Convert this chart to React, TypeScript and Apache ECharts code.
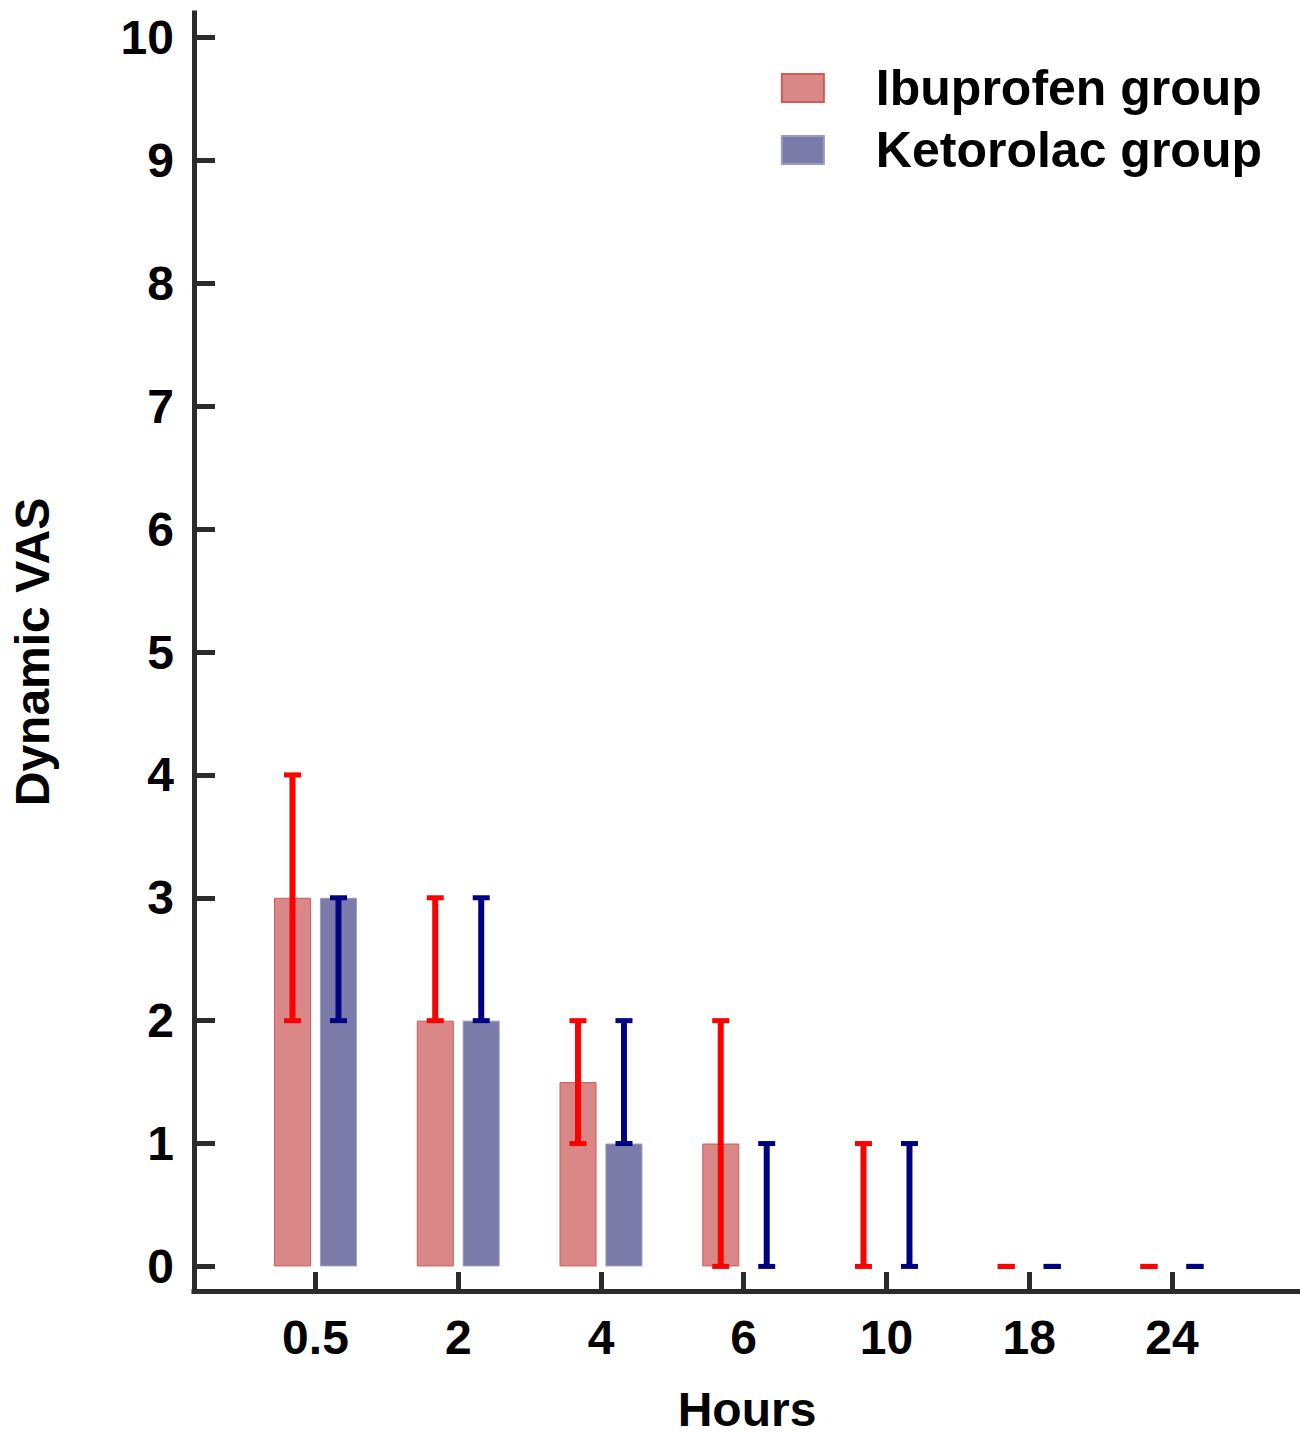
import React, { useEffect, useRef } from "react";
import * as echarts from "echarts";

const hours = ["0.5", "2", "4", "6", "10", "18", "24"];
const ibuMedian = [3, 2, 1.5, 1, 0, 0, 0];
const ketoMedian = [3, 2, 1, 0, 0, 0, 0];
const ibuLow = [2, 2, 1, 0, 0, 0, 0];
const ibuHigh = [4, 3, 2, 2, 1, 0, 0];
const ketoLow = [2, 2, 1, 0, 0, 0, 0];
const ketoHigh = [3, 3, 2, 1, 1, 0, 0];
const yTicks = [0, 1, 2, 3, 4, 5, 6, 7, 8, 9, 10];
const xTicks = [0, 1, 2, 3, 4, 5, 6];

const FONT = "'Liberation Sans', Arial, sans-serif";
const AXIS_COLOR = "#2b2b2b";

function errorSeries(name: string, low: number[], high: number[], color: string, offset: number) {
  return {
    type: "custom",
    name,
    z: 5,
    data: low.map((l, i) => [i, l, high[i]]),
    encode: { x: 0, y: [1, 2] },
    renderItem: (params: any, api: any) => {
      const x = api.value(0);
      const lo = api.value(1);
      const hi = api.value(2);
      const pLo = api.coord([x, lo]);
      const pHi = api.coord([x, hi]);
      const cx = pLo[0] + offset;
      const capW = 17;
      const capH = 5;
      const stemW = 6;
      const children: any[] = [];
      if (pLo[1] - pHi[1] > 0.5) {
        children.push({
          type: "rect",
          shape: { x: cx - stemW / 2, y: pHi[1], width: stemW, height: pLo[1] - pHi[1] },
          style: { fill: color },
        });
      }
      children.push({
        type: "rect",
        shape: { x: cx - capW / 2, y: pHi[1] - capH / 2, width: capW, height: capH },
        style: { fill: color },
      });
      children.push({
        type: "rect",
        shape: { x: cx - capW / 2, y: pLo[1] - capH / 2, width: capW, height: capH },
        style: { fill: color },
      });
      return { type: "group", children };
    },
  };
}

function barData(values: number[]) {
  return values.map((v, i) => ({
    value: [i, v],
    itemStyle: { borderWidth: v > 0 ? 1 : 0 },
  }));
}

export default function App() {
  const ref = useRef<HTMLDivElement>(null);
  useEffect(() => {
    if (!ref.current) return;
    const chart = echarts.init(ref.current, undefined, { renderer: "svg" });
    const option: any = {
      animation: false,
      backgroundColor: "#ffffff",
      textStyle: { fontFamily: FONT },
      grid: { left: 194, right: 0, top: 13, bottom: 142, containLabel: false, outerBoundsMode: "none" },
      legend: {
        data: ["Ibuprofen group", "Ketorolac group"],
        orient: "vertical",
        right: 33,
        top: 58,
        icon: "rect",
        itemWidth: 42,
        itemHeight: 28,
        itemGap: 12,
        selectedMode: false,
        textStyle: {
          fontFamily: FONT,
          fontSize: 50,
          fontWeight: "bold",
          color: "#000",
          lineHeight: 48,
          padding: [0, 0, 0, 47],
        },
      },
      xAxis: {
        type: "value",
        min: -0.851,
        max: 6.897,
        name: "Hours",
        nameLocation: "middle",
        nameGap: 100,
        nameTextStyle: { fontFamily: FONT, fontSize: 48, fontWeight: "bold", color: "#000", lineHeight: 36 },
        axisLine: { show: true, onZero: false, lineStyle: { color: AXIS_COLOR, width: 5, cap: "square" } },
        axisTick: { show: true, inside: true, length: 19, customValues: xTicks, lineStyle: { color: AXIS_COLOR, width: 5 } },
        axisLabel: {
          customValues: xTicks,
          formatter: (v: number) => hours[Math.round(v)] ?? "",
          fontFamily: FONT,
          fontSize: 48,
          fontWeight: "bold",
          color: "#000",
          margin: 22,
        },
        splitLine: { show: false },
      },
      yAxis: {
        type: "value",
        min: -0.2,
        max: 10.2,
        name: "Dynamic VAS",
        nameLocation: "middle",
        nameGap: 138,
        nameRotate: 90,
        nameTextStyle: { fontFamily: FONT, fontSize: 48, fontWeight: "bold", color: "#000" },
        axisLine: { show: true, onZero: false, lineStyle: { color: AXIS_COLOR, width: 5, cap: "square" } },
        axisTick: { show: true, inside: true, length: 21, customValues: yTicks, lineStyle: { color: AXIS_COLOR, width: 5 } },
        axisLabel: {
          customValues: yTicks,
          fontFamily: FONT,
          fontSize: 48,
          fontWeight: "bold",
          color: "#000",
          margin: 20,
        },
        splitLine: { show: false },
      },
      series: [
        {
          type: "bar",
          name: "Ibuprofen group",
          data: barData(ibuMedian),
          barWidth: 37,
          barGap: "24%",
          itemStyle: { color: "#d98787", borderColor: "#d05a5a", borderWidth: 1 },
        },
        {
          type: "bar",
          name: "Ketorolac group",
          data: barData(ketoMedian),
          barWidth: 37,
          barGap: "24%",
          itemStyle: { color: "#7b7ba9", borderColor: "#9a9ac4", borderWidth: 1 },
        },
        errorSeries("Ibuprofen IQR", ibuLow, ibuHigh, "#ff0000", -23),
        errorSeries("Ketorolac IQR", ketoLow, ketoHigh, "#000080", 23),
      ],
    };
    chart.setOption(option);
    return () => chart.dispose();
  }, []);
  return (
    <div
      ref={ref}
      style={{ position: "fixed", left: 0, top: 0, width: 1300, height: 1433, background: "#fff" }}
    />
  );
}
